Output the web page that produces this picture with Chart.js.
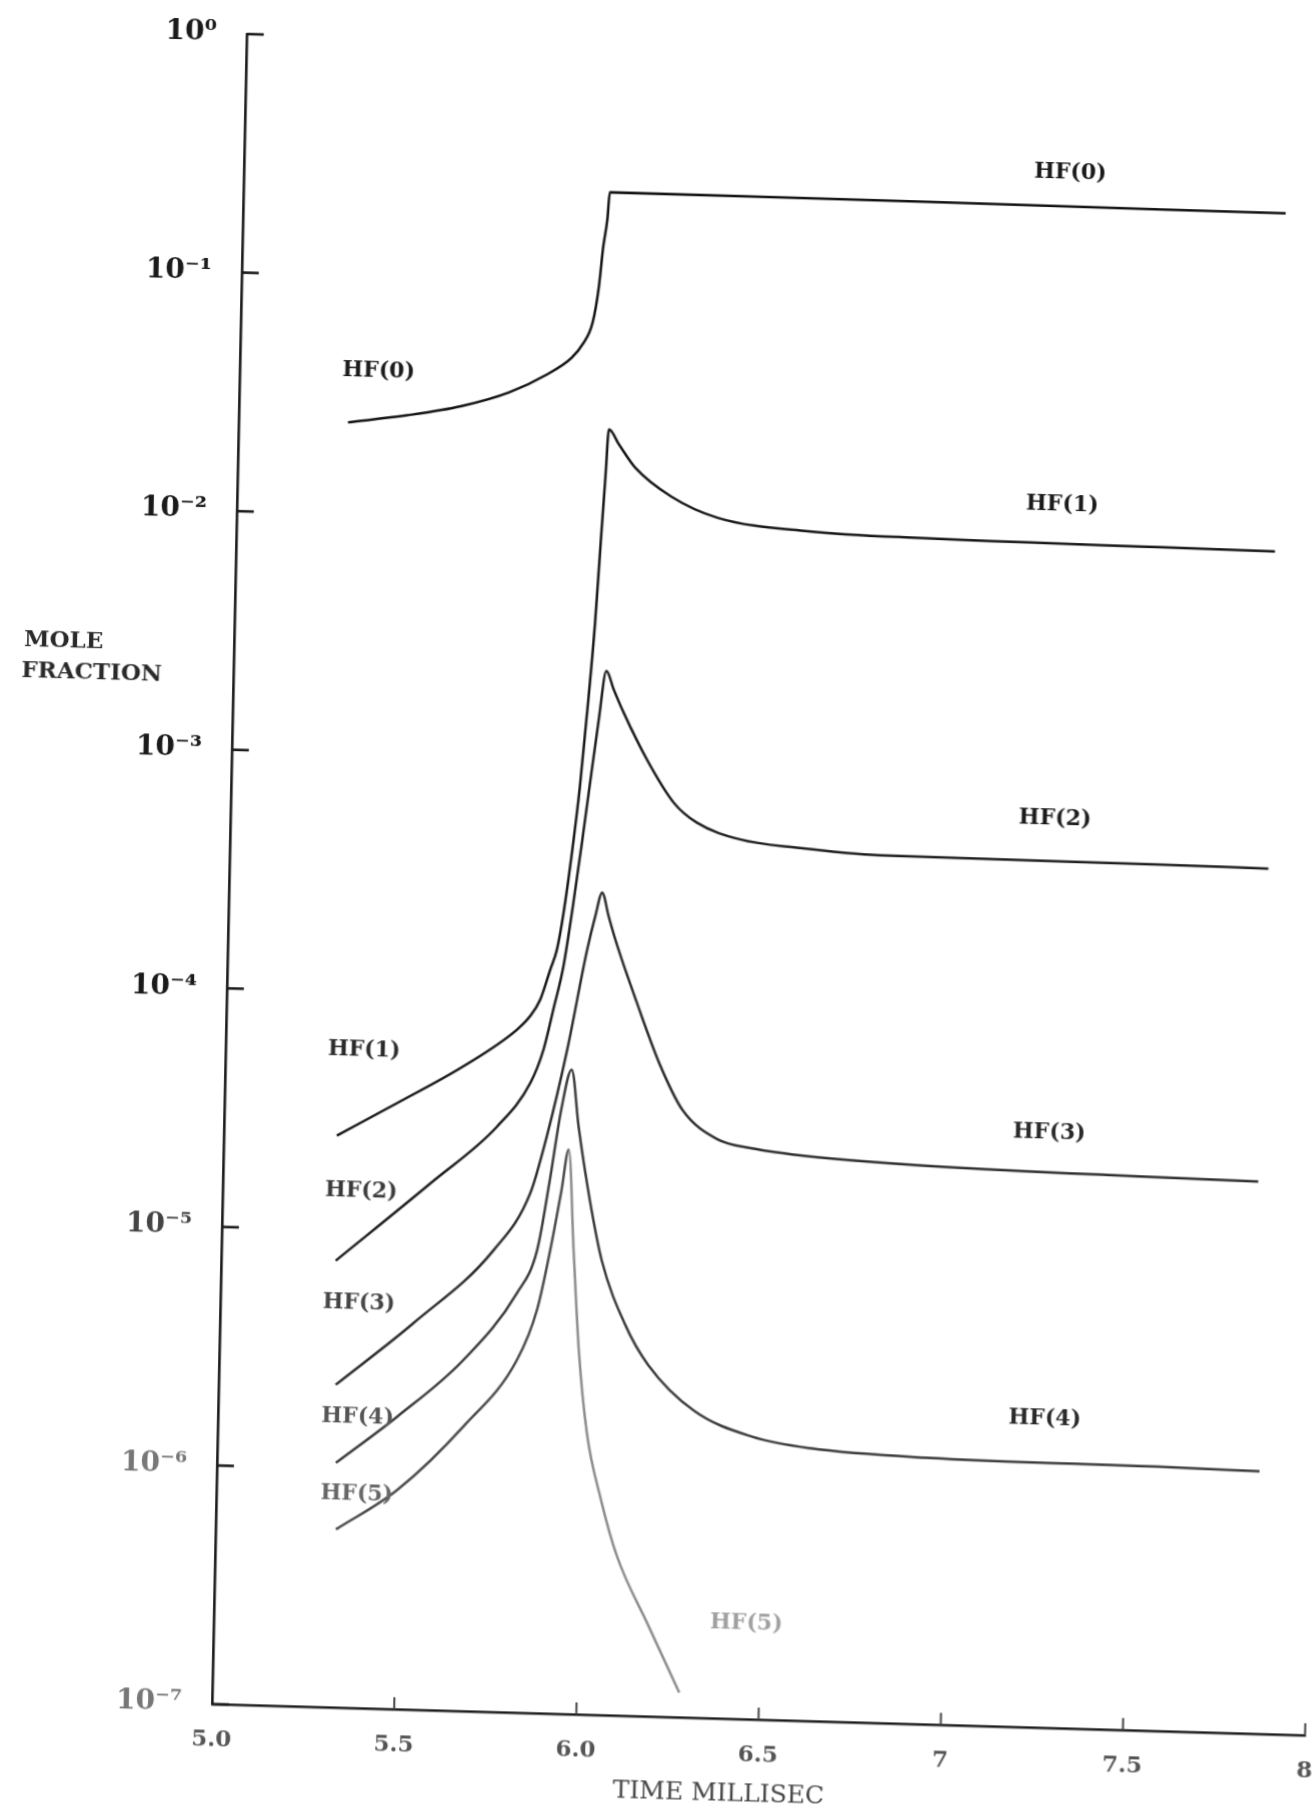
<!DOCTYPE html>
<html><head><meta charset="utf-8">
<script src="https://cdn.jsdelivr.net/npm/chart.js@4.4.1/dist/chart.umd.min.js"></script>
<style>
html,body{margin:0;padding:0;background:#fff;overflow:hidden;width:1314px;height:1814px}
#wrap{position:absolute;left:0;top:0;width:1314px;height:1814px;transform-origin:212px 1704px;transform:matrix(1,0.0286,-0.0208,1,0,0)}
canvas{display:block}
</style></head><body>
<div id="wrap"><canvas id="c" width="1314" height="1814"></canvas></div>
<script>
// ---- tick definitions ----
const xTickValues = [5.0, 5.5, 6.0, 6.5, 7.0, 7.5, 8.0];
const xTickLabels = ['5.0', '5.5', '6.0', '6.5', '7', '7.5', '8'];
const yTickValues = [1, 1e-1, 1e-2, 1e-3, 1e-4, 1e-5, 1e-6, 1e-7];
const yTickLabels = ['10⁰', '10⁻¹', '10⁻²', '10⁻³', '10⁻⁴', '10⁻⁵', '10⁻⁶', '10⁻⁷'];
const xTitle = 'TIME MILLISEC';
const yTitle = ['MOLE', 'FRACTION'];

// ---- series (time in ms, mole fraction) ----
const seriesNames = ['HF(0)', 'HF(1)', 'HF(2)', 'HF(3)', 'HF(4)', 'HF(5)'];
const hf0Time = [5.30, 5.46, 5.61, 5.74, 5.84, 5.91, 5.94, 5.965, 5.98, 5.99, 6.00, 6.005, 6.87, 7.86];
const hf0Frac = [0.0243, 0.0264, 0.0293, 0.0339, 0.0405, 0.0482, 0.0553, 0.0678, 0.0948, 0.141, 0.186, 0.240, 0.239, 0.236];
const hf1Time = [5.31, 5.473, 5.654, 5.798, 5.833, 5.860, 5.886, 5.903, 5.919, 5.938, 5.957, 5.974, 5.989, 6.000, 6.009, 6.016, 6.045, 6.09, 6.19, 6.32, 6.57, 6.89, 7.53, 7.85];
const hf1Frac = [2.49e-5, 3.46e-5, 5.04e-5, 7.27e-5, 8.30e-5, 9.77e-5, 1.31e-4, 1.59e-4, 2.26e-4, 3.96e-4, 7.76e-4, 1.70e-3, 3.72e-3, 8.15e-3, 1.51e-2, 2.44e-2, 2.11e-2, 1.70e-2, 1.30e-2, 1.07e-2, 9.64e-3, 9.31e-3, 9.12e-3, 9.02e-3];
const hf2Time = [5.314, 5.569, 5.749, 5.838, 5.872, 5.8975, 5.922, 5.944, 5.966, 5.985, 6.004, 6.023, 6.044, 6.073, 6.139, 6.215, 6.28, 6.40, 6.556, 6.785, 7.54, 7.85];
const hf2Frac = [7.45e-6, 1.61e-5, 2.84e-5, 4.37e-5, 6.04e-5, 9.04e-5, 1.36e-4, 2.40e-4, 4.54e-4, 8.14e-4, 1.44e-3, 2.37e-3, 1.99e-3, 1.59e-3, 1.02e-3, 6.78e-4, 5.62e-4, 4.84e-4, 4.54e-4, 4.32e-4, 4.27e-4, 4.22e-4];
const hf3Time = [5.321, 5.531, 5.747, 5.844, 5.886, 5.937, 5.986, 6.0065, 6.024, 6.043, 6.063, 6.124, 6.191, 6.257, 6.354, 6.45, 6.61, 6.93, 7.56, 7.84];
const hf3Frac = [2.25e-6, 4.17e-6, 8.63e-6, 1.51e-5, 2.62e-5, 6.07e-5, 1.60e-4, 2.22e-4, 2.79e-4, 2.23e-4, 1.78e-4, 9.87e-5, 5.44e-5, 3.50e-5, 2.67e-5, 2.47e-5, 2.32e-5, 2.19e-5, 2.09e-5, 2.06e-5];
const hf4Time = [5.326, 5.491, 5.670, 5.813, 5.866, 5.897, 5.924, 5.9505, 5.973, 6.009, 6.044, 6.111, 6.177, 6.306, 6.466, 6.626, 6.943, 7.58, 7.86];
const hf4Frac = [1.06e-6, 1.68e-6, 2.96e-6, 5.73e-6, 8.73e-6, 1.73e-5, 3.39e-5, 5.02e-5, 2.88e-5, 1.40e-5, 8.02e-6, 4.37e-6, 2.97e-6, 1.93e-6, 1.53e-6, 1.39e-6, 1.31e-6, 1.28e-6, 1.26e-6];
const hf5Time = [5.33, 5.495, 5.674, 5.817, 5.869, 5.902, 5.929, 5.947, 5.966, 5.986, 6.013, 6.054, 6.102, 6.192, 6.281];
const hf5Frac = [5.58e-7, 8.28e-7, 1.56e-6, 3.01e-6, 4.90e-6, 8.77e-6, 1.55e-5, 2.32e-5, 8.83e-6, 3.37e-6, 1.51e-6, 8.13e-7, 4.67e-7, 2.41e-7, 1.27e-7];

// ---- curve labels (anchored in data coordinates) ----
const labelText = ['HF(0)', 'HF(0)', 'HF(1)', 'HF(1)', 'HF(2)', 'HF(2)', 'HF(3)', 'HF(3)', 'HF(4)', 'HF(4)', 'HF(5)', 'HF(5)'];
const labelTime = [5.381, 7.267, 5.38, 7.264, 5.38, 7.262, 5.38, 7.264, 5.383, 7.268, 5.385, 6.461];
const labelFrac = [0.040, 0.330, 5.73e-5, 1.337e-2, 1.466e-5, 6.47e-4, 4.97e-6, 3.10e-5, 1.66e-6, 1.96e-6, 7.85e-7, 2.53e-7];
const labelColor = ['#1a1a1a', '#1a1a1a', '#2a2a2a', '#1a1a1a', '#3a3a3a', '#1a1a1a', '#444', '#2a2a2a', '#555', '#2a2a2a', '#666', '#a0a0a0'];

const times = [hf0Time, hf1Time, hf2Time, hf3Time, hf4Time, hf5Time];
const fracs = [hf0Frac, hf1Frac, hf2Frac, hf3Frac, hf4Frac, hf5Frac];
const lineColors = ['#111', '#151515', '#1c1c1c', '#2c2c2c', '#3a3a3a', '#555'];

Chart.defaults.font.family = '"DejaVu Serif", serif';

const datasets = seriesNames.map((name, k) => {
  const pts = times[k].map((t, i) => ({x: t, y: fracs[k][i]}));
  const peak = fracs[k].indexOf(Math.max(...fracs[k]));
  const ds = {
    label: name, data: pts, borderColor: lineColors[k], borderWidth: 2.5,
    pointRadius: 0, fill: false, cubicInterpolationMode: 'monotone'
  };
  if (k === 5) {
    ds.segment = {borderColor: c => c.p0DataIndex >= peak ? '#8c8c8c' : '#4a4a4a'};
  }
  return ds;
});

const near = (a, b) => Math.abs(a - b) < 1e-9;
const nearLog = (a, b) => Math.abs(Math.log10(a) - Math.log10(b)) < 1e-6;

const overlay = {
  id: 'overlay',
  afterDraw(chart) {
    const {ctx, chartArea: a, scales: {x, y}} = chart;
    ctx.save();
    ctx.strokeStyle = '#1a1a1a';
    ctx.lineCap = 'butt';
    ctx.lineWidth = 2.6;
    yTickValues.forEach(v => {
      const py = y.getPixelForValue(v);
      ctx.beginPath(); ctx.moveTo(a.left, py); ctx.lineTo(a.left + 17, py); ctx.stroke();
    });
    ctx.lineWidth = 2;
    ctx.strokeStyle = '#444';
    xTickValues.slice(1).forEach(v => {
      const px = x.getPixelForValue(v);
      ctx.beginPath(); ctx.moveTo(px, a.bottom); ctx.lineTo(px, a.bottom - 12); ctx.stroke();
    });
    ctx.font = 'bold 22px "DejaVu Serif"';
    ctx.textAlign = 'center';
    ctx.textBaseline = 'middle';
    labelText.forEach((t, i) => {
      ctx.fillStyle = labelColor[i];
      ctx.fillText(t, x.getPixelForValue(labelTime[i]), y.getPixelForValue(labelFrac[i]));
    });
    ctx.fillStyle = '#2a2a2a';
    ctx.font = 'bold 23px "DejaVu Serif"';
    ctx.textAlign = 'left';
    ctx.fillText(yTitle[0], 2, 646);
    ctx.fillText(yTitle[1], 0, 677);
    ctx.fillStyle = '#444';
    ctx.font = '25px "DejaVu Serif"';
    ctx.textAlign = 'center';
    ctx.fillText(xTitle, 720, 1779);
    ctx.restore();
  }
};

new Chart(document.getElementById('c'), {
  type: 'line',
  data: {datasets},
  plugins: [overlay],
  options: {
    responsive: false, animation: false,
    layout: {padding: {top: 34, right: 9, left: 0, bottom: 0}},
    plugins: {legend: {display: false}, tooltip: {enabled: false}},
    scales: {
      x: {
        type: 'linear', min: 5, max: 8,
        afterFit: s => { s.height = 110; s.paddingLeft = 0; s.paddingRight = 0; },
        afterBuildTicks: s => { s.ticks = xTickValues.map(v => ({value: v})); },
        grid: {display: false, drawTicks: false},
        border: {display: true, color: '#1a1a1a', width: 2.6},
        ticks: {
          autoSkip: false, maxRotation: 0, padding: 22, color: '#555',
          font: {size: 23, weight: 'bold'},
          callback: v => { const i = xTickValues.findIndex(t => near(t, v)); return i >= 0 ? xTickLabels[i] : ''; }
        }
      },
      y: {
        type: 'logarithmic', min: 1e-7, max: 1,
        afterFit: s => { s.width = 212; s.paddingTop = 0; s.paddingBottom = 0; },
        afterBuildTicks: s => { s.ticks = yTickValues.map(v => ({value: v})); },
        grid: {display: false, drawTicks: false},
        border: {display: true, color: '#1a1a1a', width: 2.6},
        ticks: {
          autoSkip: false, padding: 30,
          color: c => (c.index >= 6 ? '#777' : (c.index === 5 ? '#444' : '#1a1a1a')),
          font: {size: 28, weight: 'bold'},
          callback: v => { const i = yTickValues.findIndex(t => nearLog(t, v)); return i >= 0 ? yTickLabels[i] : ''; }
        }
      }
    }
  }
});
</script>
</body></html>
